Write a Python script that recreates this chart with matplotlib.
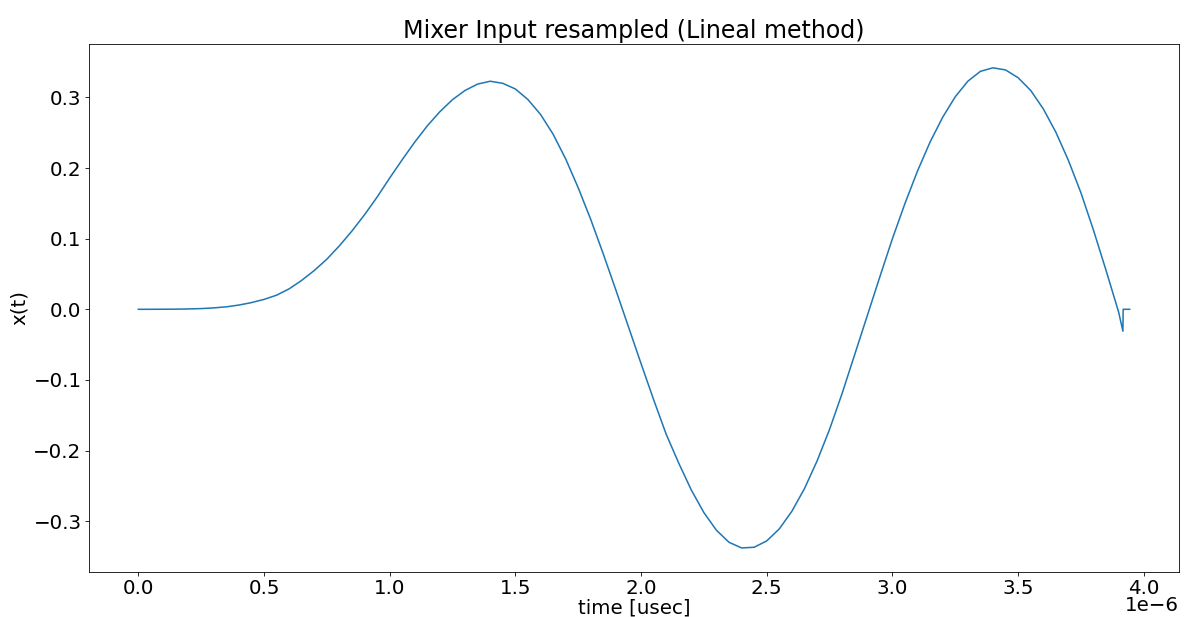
import matplotlib
matplotlib.use('Agg')
import matplotlib.pyplot as plt
import numpy as np

# samples (time in usec, amplitude)
t_us = [0.0, 0.05, 0.1, 0.15, 0.2, 0.25, 0.3, 0.35, 0.4, 0.45,
        0.5, 0.55, 0.6, 0.65, 0.7, 0.75, 0.8, 0.85, 0.9, 0.95,
        1.0, 1.05, 1.1, 1.15, 1.2, 1.25, 1.3, 1.35, 1.4, 1.45,
        1.5, 1.55, 1.6, 1.65, 1.7, 1.75, 1.8, 1.85, 1.9, 1.95,
        2.0, 2.05, 2.1, 2.15, 2.2, 2.25, 2.3, 2.35, 2.4, 2.45,
        2.5, 2.55, 2.6, 2.65, 2.7, 2.75, 2.8, 2.85, 2.9, 2.95,
        3.0, 3.05, 3.1, 3.15, 3.2, 3.25, 3.3, 3.35, 3.4, 3.45,
        3.5, 3.55, 3.6, 3.65, 3.7, 3.75, 3.8, 3.85, 3.9, 3.917,
        3.918, 3.944]
x_t = [0.0, 0.0, 0.0001, 0.0002, 0.0005, 0.001, 0.002, 0.0035, 0.006, 0.0095,
       0.014, 0.020, 0.029, 0.041, 0.055, 0.071, 0.090, 0.111, 0.134, 0.159,
       0.186, 0.212, 0.237, 0.260, 0.280, 0.297, 0.310, 0.319, 0.323, 0.320,
       0.312, 0.297, 0.276, 0.248, 0.213, 0.172, 0.127, 0.078, 0.027, -0.025,
       -0.077, -0.128, -0.177, -0.218, -0.256, -0.288, -0.313, -0.330, -0.338, -0.337,
       -0.328, -0.311, -0.286, -0.254, -0.215, -0.170, -0.119, -0.064, -0.009, 0.046,
       0.100, 0.150, 0.196, 0.237, 0.272, 0.301, 0.323, 0.337, 0.342, 0.339,
       0.328, 0.310, 0.284, 0.251, 0.211, 0.165, 0.112, 0.055, -0.004, -0.031,
       0.0, 0.0]

t = np.array(t_us) * 1e-6

plt.rcParams['font.size'] = 19.3
fig, ax = plt.subplots(figsize=(16, 617 / 74), dpi=74)
fig.subplots_adjust(left=0.075, right=0.996, top=0.929, bottom=0.073)

ax.plot(t, x_t)
ax.set_title('Mixer Input resampled (Lineal method)')
ax.set_xlabel('time [usec]', labelpad=0)
ax.set_ylabel('x(t)')
# pull the 1e-6 offset a bit closer to the tick labels
ax.xaxis.OFFSETTEXTPAD = -2

fig.savefig('out.png', dpi=74)
